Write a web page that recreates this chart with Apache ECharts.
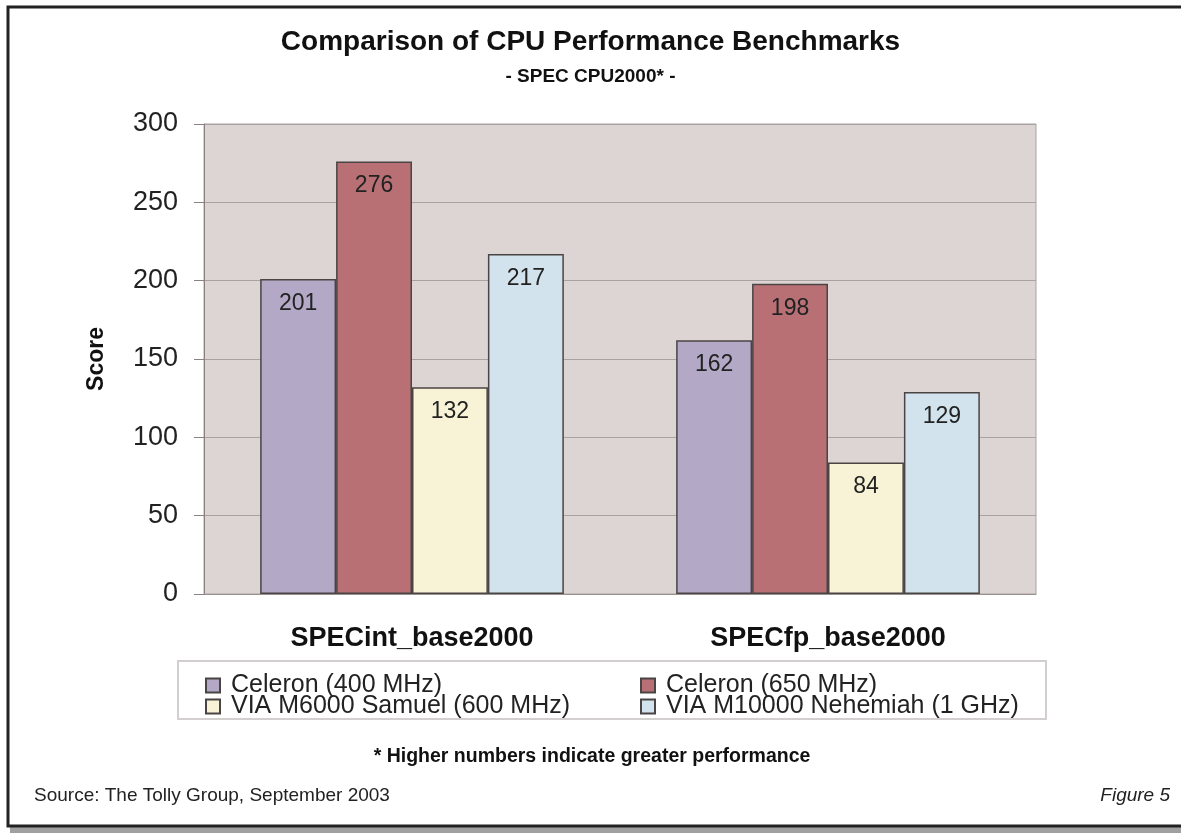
<!DOCTYPE html>
<html>
<head>
<meta charset="utf-8">
<script src="https://cdn.jsdelivr.net/npm/echarts@6/dist/echarts.min.js"></script>
<style>
html,body{margin:0;padding:0;background:#fff;}
#chart{width:1181px;height:833px;}
</style>
</head>
<body>
<div id="chart"></div>
<script>
const categories = ['SPECint_base2000', 'SPECfp_base2000'];
const seriesNames = ['Celeron (400 MHz)', 'Celeron (650 MHz)', 'VIA M6000 Samuel (600 MHz)', 'VIA M10000 Nehemiah (1 GHz)'];
const celeron400 = [201, 162];
const celeron650 = [276, 198];
const viaSamuel = [132, 84];
const viaNehemiah = [217, 129];
const yTicks = [0, 50, 100, 150, 200, 250, 300];

const colors = ['#b3a9c6', '#b87075', '#f8f3d6', '#d2e3ed'];
const FONT = '"Liberation Sans", Arial, Helvetica, sans-serif';
const values = [celeron400, celeron650, viaSamuel, viaNehemiah];

const chart = echarts.init(document.getElementById('chart'), null, {renderer: 'canvas'});

const series = seriesNames.map((name, i) => ({
  name: name,
  type: 'bar',
  data: values[i],
  barGap: '0%',
  barCategoryGap: '27%',
  itemStyle: {color: colors[i], borderColor: '#4a4444', borderWidth: 1.5},
  label: {
    show: true, position: 'insideTop', distance: 13,
    color: '#222', fontSize: 23, fontFamily: FONT
  },
  emphasis: {disabled: true}
}));

const legendText = {fontSize: 25, color: '#222', fontFamily: FONT, lineHeight: 21, padding: [0, 0, 0, 6]};

chart.setOption({
  animation: false,
  backgroundColor: '#fff',
  textStyle: {fontFamily: FONT},
  title: [
    {text: 'Comparison of CPU Performance Benchmarks', left: 'center', top: 23,
     textStyle: {fontSize: 28, fontWeight: 'bold', color: '#111', fontFamily: FONT}},
    {text: '- SPEC CPU2000* -', left: 'center', top: 62,
     textStyle: {fontSize: 19, fontWeight: 'bold', color: '#111', fontFamily: FONT}}
  ],
  legend: [
    {data: [seriesNames[0], seriesNames[2]], orient: 'vertical', left: 200, top: 668,
     itemWidth: 14, itemHeight: 14, itemGap: -4, icon: 'rect', textStyle: legendText},
    {data: [seriesNames[1], seriesNames[3]], orient: 'vertical', left: 635, top: 668,
     itemWidth: 14, itemHeight: 14, itemGap: -4, icon: 'rect', textStyle: legendText}
  ],
  grid: {left: 204, right: 145, top: 124, bottom: 239, show: true, backgroundColor: '#ddd5d3', borderColor: '#aaa2a2', borderWidth: 1},
  xAxis: {
    type: 'category', data: categories,
    axisLine: {lineStyle: {color: '#9a9292'}},
    axisTick: {show: false},
    axisLabel: {fontSize: 27, fontWeight: 'bold', color: '#111', margin: 31, fontFamily: FONT}
  },
  yAxis: {
    type: 'value', min: yTicks[0], max: yTicks[yTicks.length - 1], interval: 50,
    name: 'Score', nameLocation: 'middle', nameGap: 96,
    nameTextStyle: {fontSize: 23, fontWeight: 'bold', color: '#111', fontFamily: FONT},
    axisLine: {show: true, lineStyle: {color: '#8a8282'}},
    axisTick: {show: true, length: 10, lineStyle: {color: '#8a8282'}},
    axisLabel: {fontSize: 27, color: '#222', margin: 26, fontFamily: FONT},
    splitLine: {lineStyle: {color: '#aaa2a2', width: 1}}
  },
  series: series,
  graphic: [
    {type: 'rect', shape: {x: 178, y: 661, width: 868, height: 58}, style: {fill: 'none', stroke: '#d4cfcf', lineWidth: 2}, z: -1},
    {type: 'rect', shape: {x: 10, y: 827, width: 1180, height: 6}, style: {fill: '#a0a0a0'}},
    {type: 'rect', shape: {x: 8, y: 7, width: 1190, height: 819}, style: {fill: 'none', stroke: '#222', lineWidth: 3}},
    {type: 'text', x: 592, y: 757, style: {text: '* Higher numbers indicate greater performance', fontSize: 19.5, fontWeight: 'bold', fill: '#111', textAlign: 'center', textVerticalAlign: 'middle', fontFamily: FONT}},
    {type: 'text', x: 34, y: 796, style: {text: 'Source: The Tolly Group, September 2003', fontSize: 19, fill: '#222', textAlign: 'left', textVerticalAlign: 'middle', fontFamily: FONT}},
    {type: 'text', x: 1170, y: 796, style: {text: 'Figure 5', fontSize: 19, fontStyle: 'italic', fill: '#222', textAlign: 'right', textVerticalAlign: 'middle', fontFamily: FONT}}
  ]
});
</script>
</body>
</html>
